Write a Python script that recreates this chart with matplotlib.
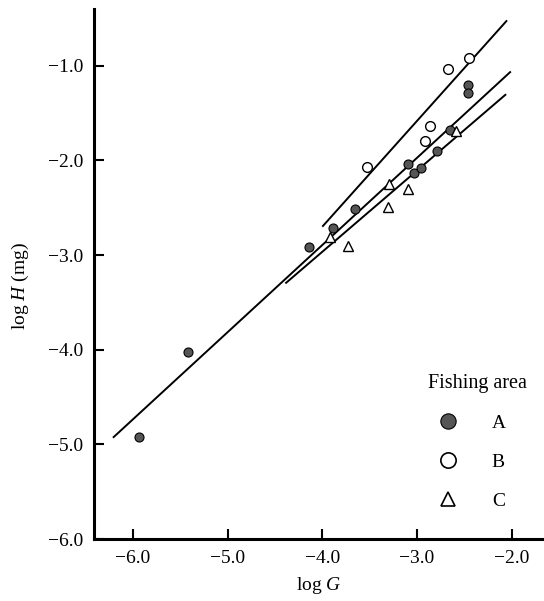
import matplotlib
matplotlib.use('Agg')
import matplotlib.pyplot as plt
from matplotlib.lines import Line2D

plt.rcParams['font.family'] = ['Liberation Serif', 'DejaVu Serif']
plt.rcParams['mathtext.fontset'] = 'custom'
plt.rcParams['mathtext.rm'] = 'Liberation Serif'
plt.rcParams['mathtext.it'] = 'Liberation Serif:italic'

# fishing area A (filled circles)
a_x = [-5.93, -5.42, -4.14, -3.89, -3.66, -3.10, -3.035, -2.955, -2.79, -2.65, -2.46, -2.46]
a_y = [-4.92, -4.02, -2.91, -2.71, -2.515, -2.04, -2.13, -2.08, -1.90, -1.68, -1.20, -1.29]
# fishing area B (open circles)
b_x = [-3.53, -2.92, -2.863, -2.67, -2.453]
b_y = [-2.07, -1.79, -1.634, -1.03, -0.92]
# fishing area C (open triangles)
c_x = [-3.92, -3.73, -3.305, -3.295, -3.095, -2.59]
c_y = [-2.81, -2.90, -2.49, -2.25, -2.30, -1.69]

# fitted lines, end points
line_x = [[-6.21, -2.01], [-4.00, -2.05], [-4.39, -2.06]]
line_y = [[-4.93, -1.06], [-2.70, -0.52], [-3.30, -1.30]]

xticks = [-6.0, -5.0, -4.0, -3.0, -2.0]
yticks = [-6.0, -5.0, -4.0, -3.0, -2.0, -1.0]
areas = ['A', 'B', 'C']

fig = plt.figure(figsize=(5.44, 6.01), dpi=100)
ax = fig.add_axes([94/544, 62/601, 450/544, 530/601])

for lx, ly in zip(line_x, line_y):
    ax.plot(lx, ly, color='black', lw=1.4, solid_capstyle='butt')

ax.plot(a_x, a_y, 'o', ms=6.5, mfc='#555555', mec='black', mew=0.8, ls='none')
ax.plot(b_x, b_y, 'o', ms=7, mfc='white', mec='black', mew=1.0, ls='none')
ax.plot(c_x, c_y, '^', ms=7, mfc='white', mec='black', mew=1.0, ls='none')

ax.set_xlim(-6.41, -1.66)
ax.set_ylim(-6.0, -0.40)
ax.set_xticks(xticks)
ax.set_yticks(yticks)
ax.set_xticklabels(['\u2212%.1f' % abs(v) for v in xticks])
ax.set_yticklabels(['\u2212%.1f' % abs(v) for v in yticks])
ax.tick_params(direction='in', length=7, width=1.5, labelsize=14, pad=8, colors='black')

for s in ['top', 'right']:
    ax.spines[s].set_visible(False)
for s in ['left', 'bottom']:
    ax.spines[s].set_linewidth(2.2)

ax.set_xlabel(r'log $G$', fontsize=14, labelpad=6)
ax.set_ylabel(r'log $H$ (mg)', fontsize=14)
ax.yaxis.set_label_coords(-0.139, 0.477)

handles = [
    Line2D([], [], marker='o', ls='none', ms=11, mfc='#555555', mec='black', mew=0.8),
    Line2D([], [], marker='o', ls='none', ms=11, mfc='white', mec='black', mew=1.2),
    Line2D([], [], marker='^', ls='none', ms=10, mfc='white', mec='black', mew=1.2),
]
ax.legend(handles, areas, title='Fishing area', frameon=False, loc='center',
          bbox_to_anchor=(0.851, 0.1835), fontsize=14, title_fontsize=14.5,
          handlelength=0.05, handletextpad=2.2, labelspacing=1.1)

fig.savefig('out.png', dpi=100)
